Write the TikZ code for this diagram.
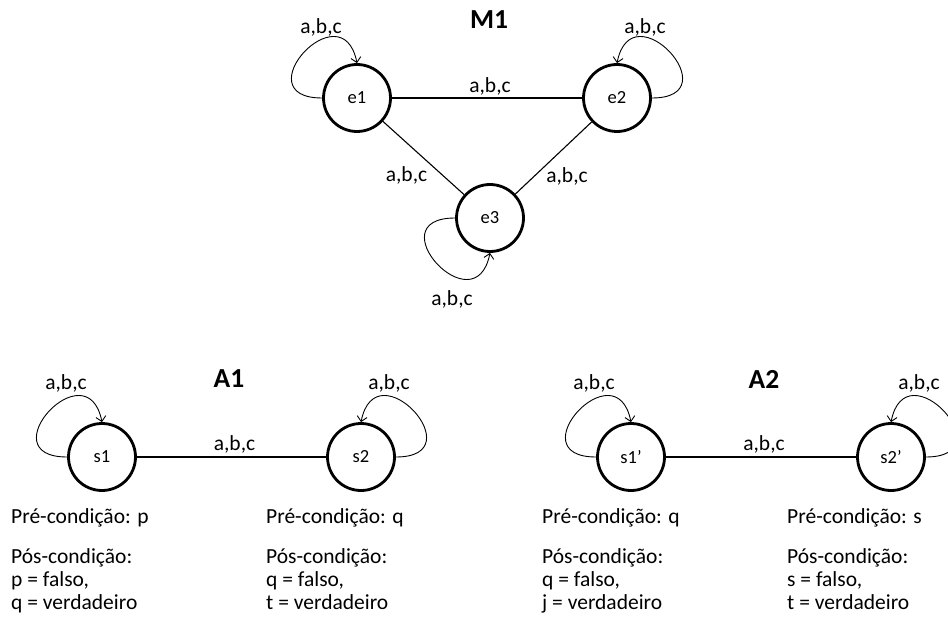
\documentclass[tikz,border=0pt]{standalone}
\usepackage{fontspec}
\setmainfont{Carlito}
\usetikzlibrary{arrows.meta}
\begin{document}
\begin{tikzpicture}[x=1pt,y=-1pt,
  state/.style={circle, draw, line width=2.8pt, minimum size=67pt, inner sep=0pt,
                font=\fontsize{18.5}{20}\selectfont},
  edge/.style={line width=1.1pt},
  selfloop/.style={line width=0.9pt, -{Straight Barb[length=5pt,width=10pt]}},
  lbl/.style={inner sep=0pt, font=\fontsize{21.5}{24}\selectfont},
  title/.style={inner sep=0pt, font=\fontsize{27.5}{30}\selectfont\bfseries},
  txt/.style={inner sep=0pt, anchor=base west, font=\fontsize{21.5}{24}\selectfont}]
\useasboundingbox (0,0) rectangle (948,623);
\clip (0,0) rectangle (948,623);

% ---------- M1 ----------
\node[title] (m1) at (489,20) {M1};
\node[state] (e1) at (357,98) {e1};
\node[state] (e2) at (617,98) {e2};
\node[state] (e3) at (490,218) {e3};

\draw[edge] (e1) -- (e2) node[midway, lbl, xshift=3pt, yshift=12pt] {a,b,c};
\draw[edge] (e1) -- (e3) node[midway, lbl, xshift=-17pt, yshift=-17pt] {a,b,c};
\draw[edge] (e2) -- (e3) node[midway, lbl, xshift=13.5pt, yshift=-18pt] {a,b,c};

\draw[selfloop] (e1.west) .. controls +(-80,0) and +(-15,-75) .. (e1.north);
\draw[selfloop] (e2.east) .. controls +(80,0) and +(15,-75) .. (e2.north);
\draw[selfloop] (e3.west) .. controls +(-80,0) and +(-15,75) .. (e3.south);
\node[lbl] (le1) at (321,27) {a,b,c};
\node[lbl] (le2) at (645,27) {a,b,c};
\node[lbl] (le3) at (452,299) {a,b,c};

% ---------- A1 ----------
\node[title] (a1) at (229,379) {A1};
\node[state] (s1) at (102,457) {s1};
\node[state] (s2) at (361,457) {s2};
\draw[edge] (s1) -- (s2) node[midway, lbl, xshift=3pt, yshift=13pt] {a,b,c};
\draw[selfloop] (s1.west) .. controls +(-80,0) and +(-15,-75) .. (s1.north);
\draw[selfloop] (s2.east) .. controls +(80,0) and +(15,-75) .. (s2.north);
\node[lbl] (ls1) at (66,383) {a,b,c};
\node[lbl] (ls2) at (389,383) {a,b,c};

% ---------- A2 ----------
\node[title] (a2) at (764,379) {A2};
\node[state] (s1p) at (631,457) {s1’};
\node[state] (s2p) at (891,457) {s2’};
\draw[edge] (s1p) -- (s2p) node[midway, lbl, xshift=3pt, yshift=13pt] {a,b,c};
\draw[selfloop] (s1p.west) .. controls +(-80,0) and +(-15,-75) .. (s1p.north);
\draw[selfloop] (s2p.east) .. controls +(80,0) and +(15,-75) .. (s2p.north);
\node[lbl] (ls1p) at (594,383) {a,b,c};
\node[lbl] (ls2p) at (919,383) {a,b,c};

% ---------- conditions ----------
\node[txt] (pre1) at (11,523) {Pré-condição: p};
\node[txt] (pos1) at (11,563) {Pós-condição:};
\node[txt] (pos1a) at (11,586) {p = falso,};
\node[txt] (pos1b) at (11,609) {q = verdadeiro};

\node[txt] (pre2) at (266,523) {Pré-condição: q};
\node[txt] (pos2) at (266,563) {Pós-condição:};
\node[txt] (pos2a) at (266,586) {q = falso,};
\node[txt] (pos2b) at (266,609) {t = verdadeiro};

\node[txt] (pre3) at (542,523) {Pré-condição: q};
\node[txt] (pos3) at (542,563) {Pós-condição:};
\node[txt] (pos3a) at (542,586) {q = falso,};
\node[txt] (pos3b) at (542,609) {j = verdadeiro};

\node[txt] (pre4) at (787,523) {Pré-condição: s};
\node[txt] (pos4) at (787,563) {Pós-condição:};
\node[txt] (pos4a) at (787,586) {s = falso,};
\node[txt] (pos4b) at (787,609) {t = verdadeiro};
\end{tikzpicture}
\end{document}
